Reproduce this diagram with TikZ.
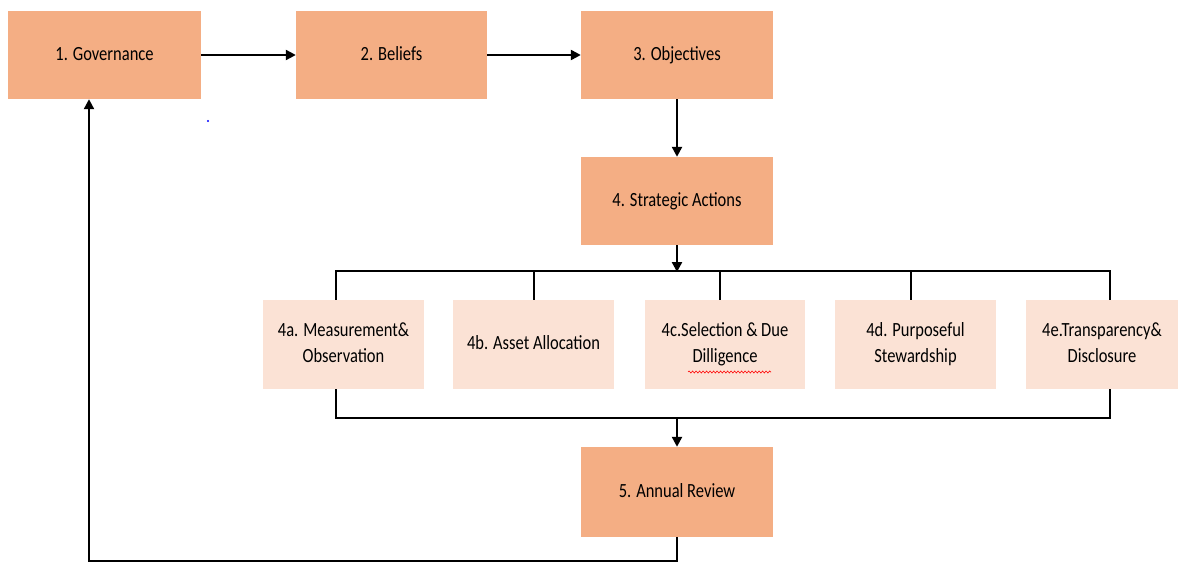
\documentclass[tikz,border=0pt]{standalone}
\usepackage{fontspec}
\setmainfont{Carlito}
\usetikzlibrary{arrows.meta,calc,decorations.pathmorphing}
\definecolor{darkbox}{RGB}{244,174,132}
\definecolor{lightbox}{RGB}{251,226,213}
\newcommand\stx[1]{\raisebox{-1.5pt}{\scalebox{1.0}[1.22]{\begin{tabular}{@{}c@{}}#1\end{tabular}}}}
\tikzset{
  mainbox/.style={fill=darkbox, draw=none, minimum width=192pt, minimum height=88pt, inner sep=0pt, align=center, font=\fontsize{16.5}{21.5}\selectfont},
  subbox/.style={fill=lightbox, draw=none, minimum width=161pt, minimum height=89pt, inner sep=0pt, align=center, font=\fontsize{16.5}{21.5}\selectfont},
  conn/.style={line width=2.3pt, black},
  arr/.style={conn, -{Triangle[length=10pt,width=10pt]}}
}
\begin{document}
\begin{tikzpicture}[x=1pt,y=-1pt]
\useasboundingbox (0,0) rectangle (1180,562);
\node[mainbox, minimum width=193pt] (gov) at (104.5,55) {\stx{1. Governance}};
\node[mainbox, minimum width=191pt] (bel) at (391.5,55) {\stx{2. Beliefs}};
\node[mainbox] (obj) at (677,55) {\stx{3. Objectives}};
\node[mainbox] (str) at (677,201) {\stx{4. Strategic Actions}};
\node[subbox] (a) at (343.5,344.5) {\stx{4a. Measurement\&\\Observation}};
\node[subbox] (b) at (533.5,344.5) {\stx{4b. Asset Allocation}};
\node[subbox, minimum width=160pt] (c) at (725,344.5) {\stx{4c.Selection \& Due\\Dilligence}};
\node[subbox] (d) at (915.5,344.5) {\stx{4d. Purposeful\\Stewardship}};
\node[subbox, minimum width=152pt] (e) at (1102,344.5) {\stx{4e.Transparency\&\\Disclosure}};
\node[mainbox, minimum height=90pt] (rev) at (677,492) {\stx{5. Annual Review}};
\coordinate (bus) at (677,272);
\coordinate (busb) at (677,418);
\coordinate (lowR) at (677,561);
\coordinate (lowL) at (89,561);
% top chain
\draw[arr] (gov.east) -- (bel.west);
\draw[arr] (bel.east) -- (obj.west);
\draw[arr] (obj.south) -- (str.north);
\draw[arr] (str.south) -- (bus);
% top bus
\draw[conn] ($(a.north)+(-7.5,0)$) |- ($(e.north)+(8,-28.5)$) -- ($(e.north)+(8,0)$);
\draw[conn] ($(b.north)+(0.5,0)$) -- ++(0,-28.5);
\draw[conn] ($(c.north)+(-5,0)$) -- ++(0,-28.5);
\draw[conn] ($(d.north)+(-4.5,0)$) -- ++(0,-28.5);
% bottom bus
\draw[conn] ($(a.south)+(-7.5,0)$) |- ($(e.south)+(8,29)$) -- ($(e.south)+(8,0)$);
\draw[arr] (busb) -- (rev.north);
% feedback loop
\draw[arr] (rev.south) -- (lowR) -- (lowL) -- (lowL |- gov.south);
% spell-check underline and stray dot
\draw[red, line width=0.6pt, decorate, decoration={snake, amplitude=1pt, segment length=3.5pt}] (688,372) -- (771,372);
\fill[blue] (208,121) circle (1.1pt);
\end{tikzpicture}
\end{document}
